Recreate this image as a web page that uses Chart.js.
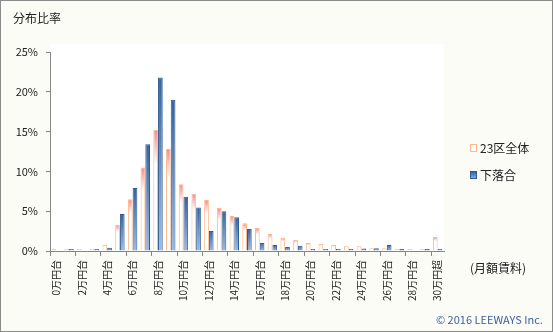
<!DOCTYPE html>
<html>
<head>
<meta charset="utf-8">
<script src="https://cdn.jsdelivr.net/npm/chart.js@4.4.0/dist/chart.umd.min.js"></script>
<style>
  html, body { margin: 0; padding: 0; background: #fafcf5; }
  #wrap { width: 553px; height: 332px; position: relative; }
</style>
</head>
<body>
<div id="wrap"><canvas id="rentChart" width="553" height="332"></canvas></div>
<script>
// categories: 0万円台 ... 29万円台, 30万円超
const categories = [];
for (let i = 0; i < 30; i++) categories.push(i + "万円台");
categories.push("30万円超");

// share of listings (%) per rent band, null = no bar
const ward23 = [0.1, 0.1, 0.1, 0.1, 0.8, 3.3, 6.5, 10.5, 15.2, 12.8,
  8.4, 7.2, 6.4, 5.4, 4.4, 3.5, 2.9, 2.15, 1.65, 1.4,
  1.0, 0.9, 0.75, 0.6, 0.6, 0.35, 0.35, 0.25, 0.25, 0.25, 1.75];
const shimoOchiai = [null, 0.1, null, 0.1, 0.4, 4.65, 7.9, 13.4, 21.8, 19.0,
  6.8, 5.45, 2.5, 5.0, 4.25, 2.75, 1.0, 0.75, 0.5, 0.65,
  0.1, 0.1, 0.1, 0.1, 0.3, 0.35, 0.75, 0.25, null, 0.25, 0.1];

const yTicks = [0, 5, 10, 15, 20, 25];
const seriesNames = ["23区全体", "下落合"];

const FONT = '"Noto Sans CJK JP", "Noto Sans", sans-serif';
Chart.defaults.font.family = FONT;

function barGradient(ctx, topColor, midColor, bottomColor, stop) {
  const chart = ctx.chart;
  const y = chart.scales.y;
  if (!y || ctx.parsed == null) return topColor;
  const top = y.getPixelForValue(ctx.parsed.y);
  const base = y.getPixelForValue(0);
  if (!isFinite(top) || base - top < 1) return bottomColor;
  const g = chart.ctx.createLinearGradient(0, top, 0, base);
  g.addColorStop(0, topColor);
  g.addColorStop(stop, midColor);
  g.addColorStop(1, bottomColor);
  return g;
}

const decor = {
  id: "decor",
  beforeDraw(chart) {
    const c = chart.ctx, a = chart.chartArea;
    c.save();
    c.fillStyle = "#fafcf5";
    c.fillRect(0, 0, chart.width, chart.height);
    c.fillStyle = "#ffffff";
    c.fillRect(a.left, a.top - 8, a.right - a.left, a.bottom - a.top + 8);
    c.restore();
  },
  afterDraw(chart) {
    const c = chart.ctx;
    c.save();
    c.fillStyle = "#222";
    c.textBaseline = "middle";
    c.font = "12px " + FONT;
    c.fillText("分布比率", 13, 18);
    c.fillText("(月額賃料)", 470, 268);

    // legend
    const items = [
      { y: 148, fill: "#ffffff", stroke: "#fbb98a" },
      { y: 175, fill: null, stroke: "#2f5c94" }
    ];
    items.forEach((it, i) => {
      if (it.fill) {
        c.fillStyle = it.fill;
      } else {
        const g = c.createLinearGradient(0, it.y - 3, 0, it.y + 4);
        g.addColorStop(0, "#35639b");
        g.addColorStop(1, "#9ab8e0");
        c.fillStyle = g;
      }
      c.fillRect(470.5, it.y - 3.5, 6, 7);
      c.strokeStyle = it.stroke;
      c.lineWidth = 1;
      c.strokeRect(470.5, it.y - 3.5, 6, 7);
      c.fillStyle = "#222";
      c.fillText(seriesNames[i], 480, it.y);
    });

    c.fillStyle = "#3d5f9e";
    c.font = "11px " + FONT;
    c.fillText("© 2016 LEEWAYS Inc.", 436, 320);

    c.strokeStyle = "#8a8a8a";
    c.strokeRect(0.5, 0.5, chart.width - 1, chart.height - 1);
    c.restore();
  }
};

new Chart(document.getElementById("rentChart"), {
  type: "bar",
  data: {
    labels: categories,
    datasets: [
      {
        label: seriesNames[0],
        data: ward23,
        backgroundColor: (ctx) => barGradient(ctx, "#f58a8c", "#ffffff", "#ffffff", 0.28),
        borderColor: "#fbb98a",
        borderWidth: 1,
        borderSkipped: "bottom",
        minBarLength: 2,
        barPercentage: 1,
        categoryPercentage: 0.74,
      },
      {
        label: seriesNames[1],
        data: shimoOchiai,
        backgroundColor: (ctx) => barGradient(ctx, "#35639b", "#6a8fc0", "#9cbbe3", 0.5),
        borderColor: "#2f5c94",
        borderWidth: 1,
        borderSkipped: "bottom",
        minBarLength: 2,
        barPercentage: 1,
        categoryPercentage: 0.74,
      },
    ],
  },
  options: {
    responsive: false,
    animation: false,
    devicePixelRatio: 1,
    layout: { padding: { top: 52, right: 109, left: 0, bottom: 0 } },
    plugins: {
      legend: { display: false },
      tooltip: { enabled: false },
    },
    scales: {
      x: {
        afterFit: (s) => { s.height = 81; },
        grid: {
          offset: true,
          drawOnChartArea: false,
          tickLength: 5,
          color: (ctx) => (ctx.index % 2 === 0 ? "#868686" : "rgba(0,0,0,0)"),
        },
        border: { color: "#868686" },
        ticks: {
          autoSkip: false,
          minRotation: 90,
          maxRotation: 90,
          padding: 4,
          color: "#222",
          font: { size: 10 },
          callback: (v, i) => (i % 2 === 0 ? categories[i] : ""),
        },
      },
      y: {
        min: 0,
        max: 25,
        afterFit: (s) => { s.width = 50; },
        afterBuildTicks: (s) => { s.ticks = yTicks.map((v) => ({ value: v })); },
        grid: { drawOnChartArea: false, tickLength: 4, color: "#868686" },
        border: { color: "#868686" },
        ticks: {
          padding: 8,
          color: "#222",
          font: { size: 11 },
          callback: (v) => v + "%",
        },
      },
    },
  },
  plugins: [decor],
});
</script>
</body>
</html>
